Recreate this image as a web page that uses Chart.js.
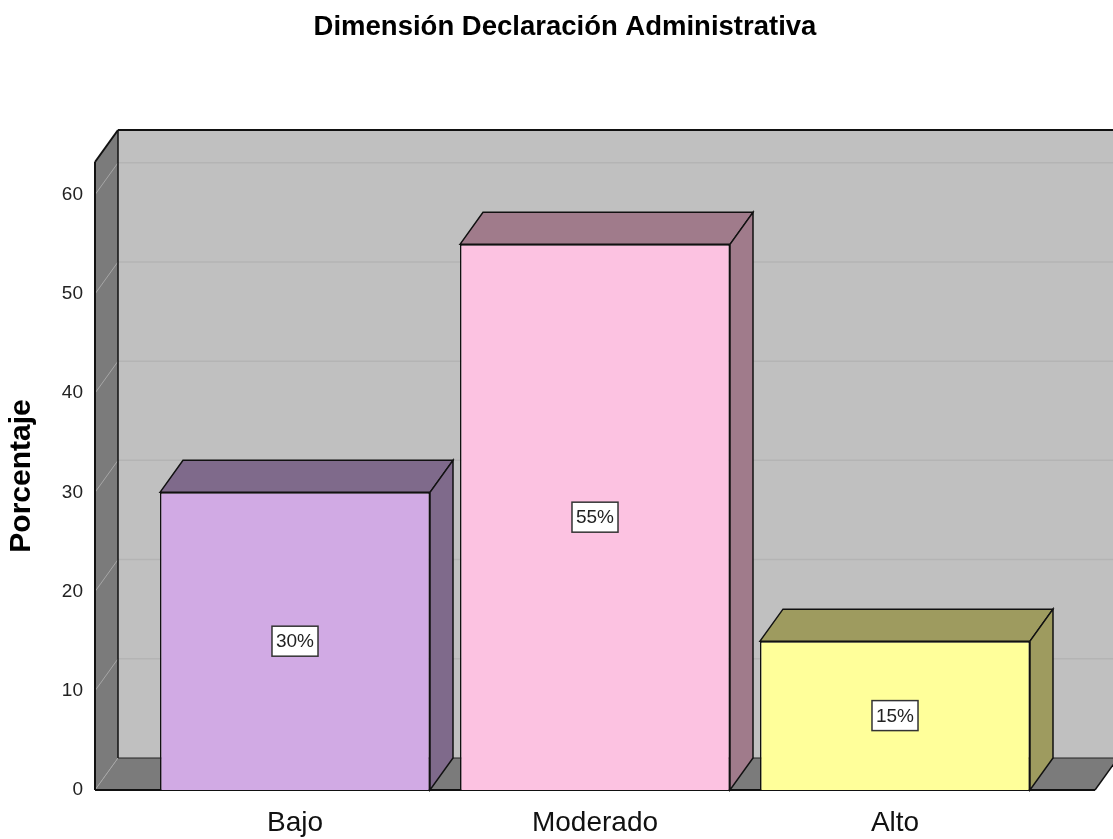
<!DOCTYPE html>
<html>
<head>
<meta charset="utf-8">
<script src="https://cdn.jsdelivr.net/npm/chart.js@4"></script>
<style>
    html, body { margin: 0; padding: 0; background: #ffffff; overflow: hidden; }
    #wrap { position: relative; width: 1113px; height: 839px; }
</style>
</head>
<body>
<div id="wrap"><canvas id="chart"></canvas></div>
<script>
// Chart data
const categories = ['Bajo', 'Moderado', 'Alto'];
const percentages = [30, 55, 15];
const valueLabels = ['30%', '55%', '15%'];
const yTicks = [0, 10, 20, 30, 40, 50, 60];

// Colours per bar: front face and darker top/side faces
const frontColors = ['#d1aae4', '#fcc2e1', '#ffff9a'];
const sideColors = ['#7f6a8b', '#a07b8b', '#9e9b5f'];

const FONT = '"Liberation Sans", Arial, sans-serif';
const DEPTH_X = 23;
const DEPTH_Y = -32;
const FRAME_PAD = 50; // floor / walls stick out past the category band

function poly(ctx, pts, fill, stroke, lw) {
    ctx.beginPath();
    ctx.moveTo(pts[0][0], pts[0][1]);
    for (let i = 1; i < pts.length; i++) ctx.lineTo(pts[i][0], pts[i][1]);
    ctx.closePath();
    if (fill) { ctx.fillStyle = fill; ctx.fill(); }
    if (stroke) { ctx.strokeStyle = stroke; ctx.lineWidth = lw || 1.5; ctx.stroke(); }
}

function line(ctx, x1, y1, x2, y2, color, lw) {
    ctx.beginPath();
    ctx.moveTo(x1, y1);
    ctx.lineTo(x2, y2);
    ctx.strokeStyle = color;
    ctx.lineWidth = lw || 1;
    ctx.stroke();
}

// Walls, floor and gridlines of the 3D box
const box3d = {
    id: 'box3d',
    beforeDatasetsDraw(chart) {
        const ctx = chart.ctx;
        const area = chart.chartArea;
        const yScale = chart.scales.y;
        const fl = area.left - FRAME_PAD;
        const fr = area.right + FRAME_PAD;
        const top = area.top;
        const bottom = yScale.getPixelForValue(0);
        const bl = fl + DEPTH_X;
        const br = fr + DEPTH_X;

        ctx.save();
        // back wall
        poly(ctx, [[bl, top + DEPTH_Y], [br, top + DEPTH_Y], [br, bottom + DEPTH_Y], [bl, bottom + DEPTH_Y]], '#c0c0c0');
        // left wall
        poly(ctx, [[fl, top], [bl, top + DEPTH_Y], [bl, bottom + DEPTH_Y], [fl, bottom]], '#7b7b7b');
        // floor
        poly(ctx, [[fl, bottom], [bl, bottom + DEPTH_Y], [br, bottom + DEPTH_Y], [fr, bottom]], '#7b7b7b');

        // gridlines
        yTicks.forEach(function(v) {
            const y = yScale.getPixelForValue(v);
            if (v > 0) line(ctx, bl, y + DEPTH_Y, br, y + DEPTH_Y, '#b4b4b4', 1.5);
            line(ctx, fl, y, bl, y + DEPTH_Y, '#a6a6a6', 1);
        });

        // outlines
        line(ctx, bl, top + DEPTH_Y, br, top + DEPTH_Y, '#111', 2);
        line(ctx, fl, top, bl, top + DEPTH_Y, '#111', 2);
        line(ctx, bl, top + DEPTH_Y, bl, bottom + DEPTH_Y, '#111', 1.5);
        line(ctx, fl, top, fl, bottom, '#111', 2);
        line(ctx, bl, bottom + DEPTH_Y, br, bottom + DEPTH_Y, '#222', 1);
        line(ctx, fl, bottom, fr, bottom, '#111', 2);
        line(ctx, fr, bottom, br, bottom + DEPTH_Y, '#111', 1.5);
        ctx.restore();
    },
    afterDatasetsDraw(chart) {
        const ctx = chart.ctx;
        const meta = chart.getDatasetMeta(0);
        ctx.save();
        meta.data.forEach(function(bar, i) {
            const half = bar.width / 2;
            const l = bar.x - half;
            const r = bar.x + half;
            const t = bar.y;
            const b = bar.base;
            // top face
            poly(ctx, [[l, t], [l + DEPTH_X, t + DEPTH_Y], [r + DEPTH_X, t + DEPTH_Y], [r, t]], sideColors[i], '#111', 1.5);
            // side face
            poly(ctx, [[r, t], [r + DEPTH_X, t + DEPTH_Y], [r + DEPTH_X, b + DEPTH_Y], [r, b]], sideColors[i], '#111', 1.5);

            // value label box in the middle of the front face
            const cy = (t + b) / 2;
            ctx.font = '19px ' + FONT;
            const tw = ctx.measureText(valueLabels[i]).width;
            const bw = tw + 8;
            const bh = 30;
            ctx.fillStyle = '#ffffff';
            ctx.fillRect(bar.x - bw / 2, cy - bh / 2, bw, bh);
            ctx.strokeStyle = '#333';
            ctx.lineWidth = 1.5;
            ctx.strokeRect(bar.x - bw / 2, cy - bh / 2, bw, bh);
            ctx.fillStyle = '#222';
            ctx.textAlign = 'center';
            ctx.textBaseline = 'middle';
            ctx.fillText(valueLabels[i], bar.x, cy + 1);
        });
        ctx.restore();
    }
};

const ctx = document.getElementById('chart').getContext('2d');
const chart = new Chart(ctx, {
    type: 'bar',
    data: {
        labels: categories,
        datasets: [{
            data: percentages,
            backgroundColor: frontColors,
            borderColor: '#111',
            borderWidth: 1.5,
            barPercentage: 0.9,
            categoryPercentage: 1.0
        }]
    },
    options: {
        responsive: true,
        maintainAspectRatio: false,
        animation: false,
        layout: { padding: { left: 17, right: 0, top: 0, bottom: 0 } },
        plugins: {
            legend: { display: false },
            tooltip: { enabled: false },
            title: {
                display: true,
                text: 'Dimensión Declaración Administrativa',
                color: '#000',
                font: { family: FONT, size: 27.5, weight: 'bold' },
                padding: { top: 11, bottom: 118 }
            }
        },
        scales: {
            x: {
                grid: { display: false },
                border: { display: false },
                ticks: {
                    color: '#111',
                    font: { family: FONT, size: 28 },
                    padding: 8
                },
                afterFit: function(scale) { scale.height = 49; }
            },
            y: {
                min: 0,
                max: 63.3,
                grid: { display: false, drawTicks: false },
                border: { display: false },
                ticks: {
                    stepSize: 10,
                    color: '#222',
                    font: { family: FONT, size: 19 },
                    padding: 62
                },
                afterBuildTicks: function(scale) {
                    scale.ticks = yTicks.map(function(v) { return { value: v }; });
                },
                title: {
                    display: true,
                    text: 'Porcentaje',
                    color: '#000',
                    font: { family: FONT, size: 30, weight: 'bold' },
                    padding: { top: -13, bottom: 0 }
                },
                afterFit: function(scale) {
                    // the wide tick padding must not eat vertical room
                    scale.width = 128;
                    scale.paddingTop = 0;
                    scale.paddingBottom = 0;
                }
            },
            // empty right-hand axis: keeps room for the box depth on the right
            y2: {
                position: 'right',
                grid: { display: false },
                border: { display: false },
                ticks: { display: false },
                afterFit: function(scale) { scale.width = 68; }
            }
        }
    },
    plugins: [box3d]
});
</script>
</body>
</html>
